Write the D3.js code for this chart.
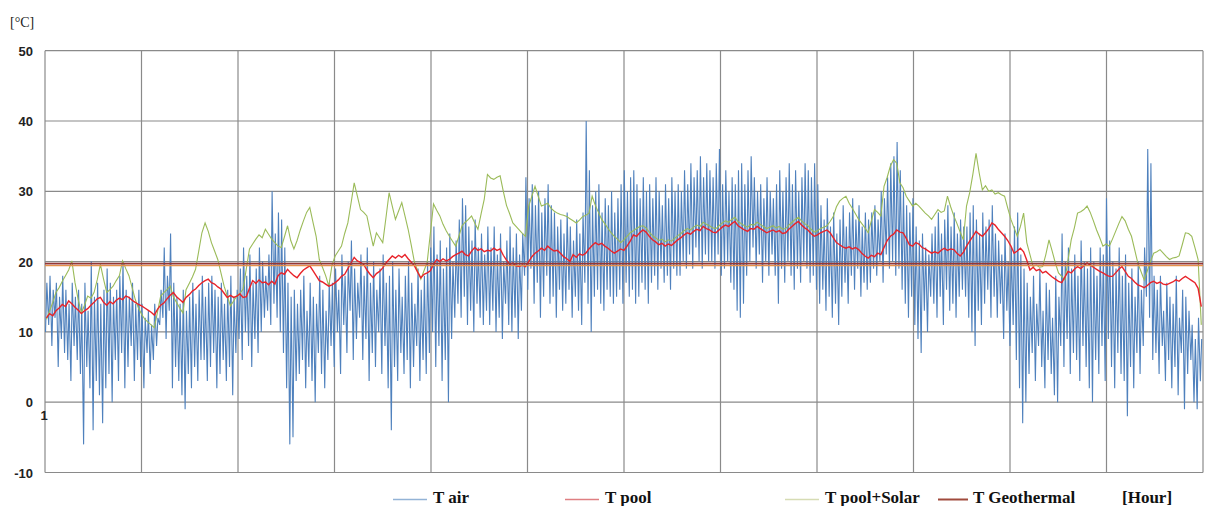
<!DOCTYPE html>
<html>
<head>
<meta charset="utf-8">
<script src="https://cdn.jsdelivr.net/npm/d3@7/dist/d3.min.js"></script>
<style>
  body { margin: 0; background: #fff; }
  svg { display: block; }
</style>
</head>
<body>
<svg id="chart" width="1210" height="506"></svg>
<script>
//Daily maximum of T air, one row = 10 days
var airHigh = [
  17,18,16,17,15,18,16,14,17,15,
  16,14,17,13,20,15,17,14,16,19,
  17,15,16,18,20,16,15,17,14,16,
  14,12,13,11,14,12,16,22,18,24,
  17,15,14,16,13,15,17,14,16,18,
  15,17,18,16,15,17,14,16,18,15,
  16,19,22,18,21,17,19,22,20,18,
  21,30,24,27,26,22,17,15,16,14,
  16,18,13,17,15,14,18,16,13,17,
  17,19,16,21,18,20,23,19,17,21,
  18,22,17,20,16,19,21,17,18,20,
  16,19,15,18,20,17,14,19,16,18,
  20,22,25,21,23,19,22,24,20,23,
  26,29,28,25,23,26,22,24,21,25,
  22,25,21,24,20,23,25,22,24,21,
  24,32,29,31,28,30,27,29,31,28,
  27,25,26,24,27,25,23,26,24,27,
  40,33,28,30,31,27,29,28,30,27,
  29,31,33,30,32,33,31,29,32,30,
  31,29,32,30,28,31,29,32,30,31,
  30,33,31,34,32,33,35,32,34,33,
  32,34,36,31,33,30,32,31,33,34,
  31,33,35,32,30,31,29,32,30,29,
  31,33,30,32,34,31,33,30,32,34,
  33,32,34,31,28,26,29,25,27,24,
  26,28,25,27,29,26,28,25,27,26,
  27,28,26,30,29,32,34,35,37,33,
  30,28,27,29,25,23,24,22,21,24,
  25,27,24,26,28,25,27,24,26,25,
  25,27,28,26,24,27,25,26,28,24,
  23,21,24,20,22,25,27,21,19,17,
  15,18,14,19,13,17,16,12,18,15,
  24,20,22,19,21,18,23,20,19,22,
  20,18,22,21,29,23,20,19,22,18,
  21,17,19,15,20,16,22,36,34,18,
  16,18,13,17,15,14,18,12,16,15,
  13,11,9,12,9
];

//Daily minimum of T air
var airLow = [
  10,11,8,12,5,9,7,6,3,8,
  6,4,-6,5,2,-4,3,1,-3,2,
  4,0,6,3,7,2,5,8,3,6,
  5,2,7,4,6,8,11,12,9,13,
  2,5,3,1,-1,4,2,5,3,6,
  6,3,5,7,2,4,6,3,5,1,
  7,9,6,10,8,5,9,7,10,12,
  13,11,14,12,10,7,2,-6,-5,3,
  4,6,2,5,3,0,7,4,2,6,
  8,5,10,4,11,7,13,6,9,12,
  6,9,3,7,5,10,4,8,2,-4,
  5,3,7,4,6,2,5,8,3,6,
  4,7,10,5,8,3,6,0,9,12,
  14,12,15,11,13,10,14,12,11,13,
  11,13,10,12,9,14,11,10,12,9,
  13,18,16,19,14,17,12,15,18,14,
  15,12,16,13,14,16,12,15,13,11,
  17,14,10,15,16,14,13,16,15,14,
  15,16,14,17,15,16,14,15,17,16,
  14,17,18,16,19,17,18,16,19,18,
  18,20,19,21,19,22,20,19,21,20,
  20,19,21,18,19,20,17,16,13,12,
  14,18,20,22,19,21,17,20,18,21,
  18,14,19,17,20,18,16,19,17,20,
  19,17,18,16,14,16,13,15,12,14,
  11,15,17,14,18,16,19,15,17,16,
  17,19,18,20,17,21,19,20,18,19,
  16,14,12,15,11,9,7,13,10,15,
  14,12,15,11,16,13,14,12,15,16,
  15,12,10,8,13,11,14,16,12,15,
  12,14,9,13,8,11,6,2,-3,0,
  4,7,3,8,5,2,6,4,1,0,
  8,5,9,4,7,6,3,8,5,2,
  0,6,4,8,3,9,5,2,7,4,
  3,-2,5,2,7,4,8,15,12,6,
  7,4,8,3,6,2,5,1,7,-1,
  4,6,0,-1,3
];

//T pool, one value per day
var poolTemp = [
  12.0,12.6,12.3,13.0,13.4,13.9,13.6,14.4,14.0,13.5,
  13.1,12.6,13.0,13.3,13.8,14.2,14.7,14.9,14.2,13.8,
  14.3,14.0,14.5,14.8,14.6,15.1,14.9,14.5,14.2,13.9,
  13.7,13.4,13.1,12.8,12.4,13.2,13.8,14.1,14.7,15.2,
  15.6,15.0,14.6,14.2,14.9,15.3,15.8,16.1,16.6,17.0,
  17.3,17.5,17.0,16.8,16.4,16.1,15.5,14.9,15.2,14.9,
  15.1,15.4,14.9,15.0,16.2,17.3,16.9,17.4,17.0,17.1,
  16.7,17.2,16.8,18.0,18.4,18.2,18.9,18.4,18.0,17.7,
  18.3,18.8,19.1,19.4,18.7,18.0,17.3,17.1,16.8,16.5,
  16.7,17.0,17.4,17.9,18.2,19.0,19.8,20.6,20.1,19.9,
  19.6,18.8,18.2,17.7,18.3,18.6,19.1,19.8,20.3,20.8,
  20.5,20.9,20.6,21.0,20.4,19.9,19.4,18.5,17.7,18.2,
  18.4,18.7,19.6,20.3,20.0,20.4,20.1,20.3,20.7,21.0,
  21.2,21.5,21.0,20.8,21.5,22.0,21.6,21.8,21.4,21.6,
  21.5,21.9,21.6,21.8,20.9,20.2,19.6,19.8,19.4,19.3,
  19.5,19.3,20.0,20.7,21.2,21.5,21.9,21.6,22.2,21.8,
  21.5,21.6,21.2,20.7,20.4,20.0,21.0,20.6,21.1,20.9,
  21.2,21.8,22.3,22.7,22.4,22.6,22.2,21.9,21.5,21.2,
  21.5,21.8,21.6,22.2,22.9,23.8,23.6,24.1,24.5,24.2,
  23.6,23.1,22.8,22.4,22.6,22.2,22.5,22.3,22.7,23.1,
  23.4,23.8,24.1,23.9,24.3,24.6,24.4,25.0,24.7,24.5,
  24.2,24.1,24.5,24.9,25.2,25.0,25.4,25.7,25.1,24.8,
  24.5,24.3,24.7,24.6,25.0,24.7,24.4,24.1,24.3,24.5,
  24.2,24.4,24.0,24.1,24.6,25.0,25.4,25.7,25.2,24.8,
  24.5,24.0,23.6,23.8,24.1,24.3,24.5,24.1,23.4,22.7,
  22.4,22.1,21.9,22.1,21.8,22.0,21.7,21.2,20.8,20.5,
  20.9,20.7,21.2,21.0,22.0,23.0,23.6,23.9,24.5,24.2,
  24.1,23.3,22.4,22.2,22.7,22.5,22.0,21.8,21.5,21.2,
  21.4,21.2,21.6,21.9,21.6,21.8,21.7,21.2,20.8,21.3,
  22.2,22.9,23.6,24.3,23.9,23.6,24.1,24.7,25.5,25.2,
  24.6,24.1,23.6,23.0,22.2,21.2,21.5,21.9,21.4,20.2,
  18.8,19.2,18.7,18.9,18.4,18.6,18.2,17.8,17.5,17.2,
  17.0,17.8,18.6,18.4,18.9,19.3,19.0,19.4,19.8,19.5,
  19.2,18.9,18.6,18.4,18.1,17.9,17.9,18.4,18.9,19.3,
  18.6,17.9,17.6,17.1,16.7,16.5,16.3,16.6,17.0,17.2,
  16.9,17.1,16.8,16.7,16.9,17.1,17.4,17.2,17.6,17.9,
  17.6,17.3,17.0,16.2,13.6
];

//T pool+Solar, one value per day
var solarTemp = [
  11.8,13.0,14.2,15.6,16.3,17.2,18.0,18.8,20.1,17.0,
  14.6,12.7,13.8,15.1,14.8,15.6,17.4,19.6,17.5,15.6,
  16.0,16.5,17.3,18.0,20.1,19.0,18.0,16.3,14.6,13.4,
  12.5,11.8,11.4,11.0,10.6,12.8,15.1,15.6,16.0,16.5,
  15.0,14.2,13.4,12.7,16.0,16.9,17.8,18.9,21.5,24.1,
  25.5,24.3,22.7,21.5,20.3,18.4,16.5,15.1,13.7,14.4,
  15.1,15.5,16.1,19.0,21.8,22.5,23.2,23.8,23.4,24.6,
  23.9,23.2,22.7,22.2,22.0,23.5,25.1,23.0,21.8,23.0,
  24.5,25.8,27.0,27.7,25.6,23.6,20.3,19.2,18.0,16.5,
  19.5,20.8,21.5,22.2,24.0,25.5,28.3,31.2,29.3,27.4,
  27.0,26.5,24.3,22.2,24.1,23.4,22.7,26.2,29.8,27.9,
  26.0,27.2,28.4,26.5,24.6,22.3,19.9,18.7,17.5,18.7,
  19.9,24.0,28.2,27.3,26.5,25.3,24.4,23.6,22.9,22.2,
  23.6,25.1,25.6,26.0,26.5,25.5,24.6,26.8,28.9,32.4,
  31.9,31.7,32.0,32.2,30.0,28.0,26.8,25.5,25.0,24.5,
  24.0,23.6,27.9,29.3,30.7,29.3,27.9,28.1,28.3,27.6,
  27.2,26.9,26.7,26.6,26.4,26.1,25.8,25.5,25.9,26.4,
  26.6,26.9,29.3,28.0,27.0,26.0,25.4,24.7,24.1,23.6,
  23.2,22.7,23.1,23.6,24.1,24.4,24.7,25.0,25.1,24.8,
  24.2,23.7,23.4,23.0,23.2,22.8,23.1,22.9,23.3,23.7,
  24.0,24.4,24.7,24.5,24.9,25.2,25.0,25.6,25.3,25.1,
  24.8,24.7,25.1,25.5,25.8,25.6,26.0,26.3,25.7,25.4,
  25.1,24.9,25.3,25.2,25.6,25.3,25.0,24.7,24.9,25.1,
  24.8,25.0,24.6,24.7,25.2,25.6,26.0,26.3,25.8,25.4,
  25.1,24.6,24.2,24.4,24.7,24.9,25.1,25.7,26.4,27.8,
  28.6,29.0,29.3,28.3,27.6,26.8,26.0,25.4,24.8,24.1,
  25.8,27.4,27.0,26.5,30.7,32.0,33.6,34.5,34.0,31.2,
  30.5,29.3,28.6,27.9,28.3,27.9,27.4,26.9,26.5,26.0,
  26.7,27.4,27.0,27.2,29.3,27.8,26.5,25.4,24.2,23.1,
  27.9,29.8,32.4,35.4,32.6,30.2,30.8,30.0,30.2,29.6,
  29.8,29.5,29.3,27.6,26.0,24.8,23.6,25.0,26.9,22.7,
  21.0,19.3,19.5,19.2,19.3,21.0,23.1,21.5,19.8,18.4,
  17.9,17.4,20.2,23.1,24.8,26.9,27.1,27.4,27.9,27.0,
  25.8,24.5,23.4,22.2,22.5,22.2,23.2,24.3,25.4,26.4,
  25.8,24.6,23.6,21.7,19.8,18.6,17.4,18.7,20.0,21.2,
  21.4,21.7,21.2,20.7,20.3,20.5,20.6,20.8,22.4,24.1,
  24.0,23.6,22.0,20.3,11.0
];

//T Geothermal (constant over the year)
var geoTemp = 19.7;

//Ticks
var yTicks = [-10, 0, 10, 20, 30, 40, 50];
var xLabels = ["1"];
var hoursPerMark = 730;
var totalHours = 8760;

//Legend
var legendNames = ["T air", "T pool", "T pool+Solar", "T Geothermal"];
var legendColors = ["#93b3d6", "#df7f82", "#d6dcb4", "#a04a3c"];

//Plot area
var margin = {top: 50.7, right: 7, bottom: 33.5, left: 45},
  width  = 1210 - margin.left - margin.right,
  height = 506 - margin.top - margin.bottom;

var svg = d3.select("#chart");

var x = d3.scaleLinear().domain([1, totalHours + 1]).range([margin.left, margin.left + width]);
var y = d3.scaleLinear().domain([-10, 50]).range([margin.top + height, margin.top]);

//Build series points
var airPts = [];
airHigh.forEach(function(h, i) {
  airPts.push({h: i * 24 + 5, v: airLow[i]});
  airPts.push({h: i * 24 + 15, v: h});
});
var poolPts = poolTemp.map(function(v, i) { return {h: i * 24 + 12, v: v}; });
var solarPts = solarTemp.map(function(v, i) { return {h: i * 24 + 12, v: v}; });
var geoPts = [{h: 1, v: geoTemp}, {h: totalHours + 1, v: geoTemp}];

var line = d3.line()
  .x(function(d) { return x(d.h); })
  .y(function(d) { return y(d.v); });

//Gridlines
var grid = svg.append("g").attr("class", "grid");
grid.selectAll(".hgrid")
  .data(yTicks)
  .enter().append("line")
  .attr("x1", x(1)).attr("x2", x(totalHours + 1))
  .attr("y1", function(d) { return y(d); })
  .attr("y2", function(d) { return y(d); })
  .style("stroke", "#8a8a8a").style("stroke-width", 1.2);

grid.selectAll(".vgrid")
  .data(d3.range(1, totalHours + 2, hoursPerMark))
  .enter().append("line")
  .attr("x1", function(d) { return x(d); })
  .attr("x2", function(d) { return x(d); })
  .attr("y1", y(50)).attr("y2", y(-10))
  .style("stroke", "#8a8a8a").style("stroke-width", 1.2);

//Series
svg.append("path").datum(airPts)
  .attr("d", line)
  .style("fill", "none").style("stroke", "#4f81bd").style("stroke-width", 1.1);

svg.append("path").datum(solarPts)
  .attr("d", line)
  .style("fill", "none").style("stroke", "#9bbb59").style("stroke-width", 1.1);

svg.append("path").datum(poolPts)
  .attr("d", line)
  .style("fill", "none").style("stroke", "#e8232a").style("stroke-width", 1.4);

svg.append("path").datum(geoPts)
  .attr("d", line)
  .attr("transform", "translate(0,2)")
  .style("fill", "none").style("stroke", "#e6914a").style("stroke-width", 1.2);
svg.append("path").datum(geoPts)
  .attr("d", line)
  .style("fill", "none").style("stroke", "#953735").style("stroke-width", 1.8);

//Y axis labels
svg.selectAll(".ylab")
  .data(yTicks)
  .enter().append("text")
  .attr("x", 33)
  .attr("y", function(d) { return y(d) + 5; })
  .style("text-anchor", "end")
  .style("font-family", "'Liberation Sans', Arial, sans-serif")
  .style("font-weight", "bold")
  .style("font-size", "13px")
  .style("fill", "#222")
  .text(function(d) { return d; });

//X label
svg.selectAll(".xlab")
  .data(xLabels)
  .enter().append("text")
  .attr("x", function(d) { return x(+d) - 1; })
  .attr("y", y(0) + 18)
  .style("text-anchor", "middle")
  .style("font-family", "'Liberation Sans', Arial, sans-serif")
  .style("font-weight", "bold")
  .style("font-size", "13px")
  .style("fill", "#222")
  .text(function(d) { return d; });

//Unit label
svg.append("text")
  .attr("x", 10).attr("y", 27)
  .style("font-family", "'Liberation Serif', 'Times New Roman', serif")
  .style("font-size", "14px")
  .style("fill", "#222")
  .text("[°C]");

//Legend
var legendX = [393, 565, 785, 938];
var legend = svg.selectAll(".legend")
  .data(legendNames)
  .enter().append("g")
  .attr("transform", function(d, i) { return "translate(" + legendX[i] + ",0)"; });

legend.append("line")
  .attr("x1", 0).attr("x2", function(d, i) { return i === 3 ? 30 : 34; })
  .attr("y1", 499.5).attr("y2", 499.5)
  .style("stroke", function(d, i) { return legendColors[i]; })
  .style("stroke-width", function(d, i) { return i === 3 ? 2 : 1.5; });

legend.append("text")
  .attr("x", function(d, i) { return i === 3 ? 35 : 40; })
  .attr("y", 503)
  .style("font-family", "'Liberation Serif', 'Times New Roman', serif")
  .style("font-weight", "bold")
  .style("font-size", "17px")
  .style("fill", "#111")
  .text(function(d) { return d; });

svg.append("text")
  .attr("x", 1122).attr("y", 503)
  .style("font-family", "'Liberation Serif', 'Times New Roman', serif")
  .style("font-weight", "bold")
  .style("font-size", "17px")
  .style("fill", "#111")
  .text("[Hour]");
</script>
</body>
</html>
